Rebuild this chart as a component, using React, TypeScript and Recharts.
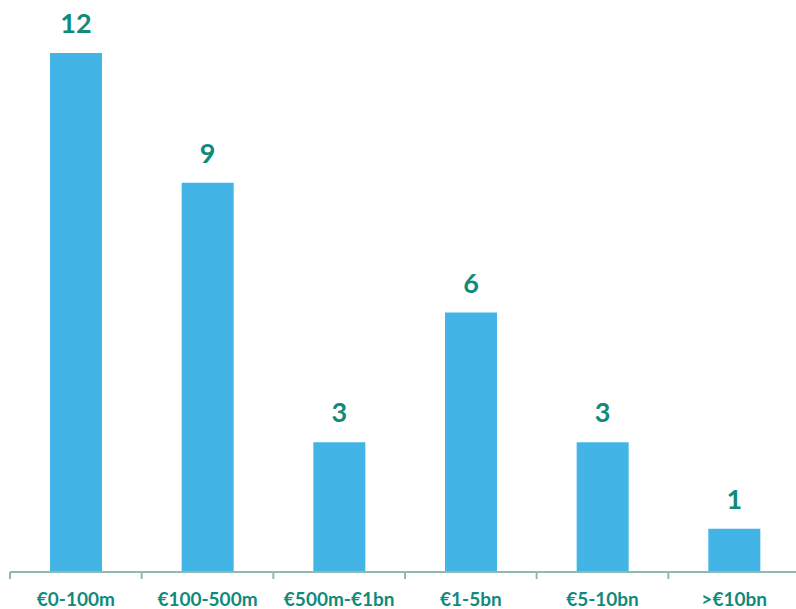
import { BarChart, Bar, XAxis, YAxis, LabelList } from "recharts";

const categories = ["€0-100m", "€100-500m", "€500m-€1bn", "€1-5bn", "€5-10bn", ">€10bn"];
const counts = [12, 9, 3, 6, 3, 1];

const data = categories.map((name, i) => ({ name, count: counts[i] }));

const TEAL = "#0f8a7b";
const BLUE = "#42b4e6";
const AXIS = "#8fbab0";
const FONT = "Lato, 'Open Sans', sans-serif";

const BAND = 790 / categories.length;

function CategoryTick(props: any) {
  const { x, y, payload } = props;
  const left = x - BAND / 2;
  return (
    <g>
      <line x1={left} x2={left} y1={y} y2={y + 7} stroke={AXIS} strokeWidth={2} />
      <text
        x={x}
        y={y + 34}
        textAnchor="middle"
        fill={TEAL}
        fontSize={19}
        fontWeight={700}
        fontFamily={FONT}
      >
        {payload.value}
      </text>
    </g>
  );
}

export default function App() {
  return (
    <div style={{ position: "absolute", left: 0, top: 0, width: 796, height: 609, overflow: "hidden", background: "#fff" }}>
      <BarChart
        width={800}
        height={609}
        data={data}
        margin={{ top: 53, right: 0, bottom: 0, left: 10 }}
      >
        <YAxis hide domain={[0, 12]} />
        <XAxis
          dataKey="name"
          height={37}
          tickLine={false}
          tickSize={0}
          tickMargin={0}
          axisLine={{ stroke: AXIS, strokeWidth: 2 }}
          tick={<CategoryTick />}
          interval={0}
        />
        <Bar dataKey="count" fill={BLUE} barSize={52} isAnimationActive={false}>
          <LabelList
            dataKey="count"
            position="top"
            offset={20}
            fill={TEAL}
            fontSize={27}
            fontWeight={700}
            fontFamily={FONT}
          />
        </Bar>
      </BarChart>
    </div>
  );
}
